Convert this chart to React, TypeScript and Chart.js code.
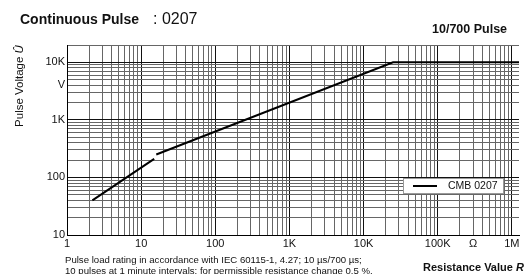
import React, { useEffect, useRef } from "react";
import { Chart, registerables } from "chart.js";

Chart.register(...registerables);

const seriesLabel = "CMB 0207";
const resistance = [2.2, 15, 15.5, 16, 25000, 1250000];
const voltage: (number | null)[] = [40, 210, null, 250, 10000, 10000];

const xTickLabels: Record<number, string> = {
  1: "1", 10: "10", 100: "100", 1000: "1K", 10000: "10K", 100000: "100K", 300000: "Ω", 1000000: "1M",
};
const yTickLabels: Record<number, string> = {
  10: "10", 100: "100", 1000: "1K", 4000: "V", 10000: "10K",
};

const titleMain = "Continuous Pulse";
const titleCode = ": 0207";
const titleRight = "10/700 Pulse";
const yTitle = "Pulse Voltage ";
const yTitleSym = "Û";
const xTitle = "Resistance Value ";
const xTitleSym = "R";
const note1 = "Pulse load rating in accordance with IEC 60115-1, 4.27; 10 µs/700 µs;";
const note2 = "10 pulses at 1 minute intervals; for permissible resistance change 0.5 %.";

function logGrid(min: number, max: number): number[] {
  const out: number[] = [];
  for (let d = Math.floor(Math.log10(min)); d <= Math.ceil(Math.log10(max)); d++) {
    for (let m = 1; m <= 9; m++) {
      const v = Math.round(m * Math.pow(10, d));
      if (v >= min - 1e-9 && v <= max + 1e-9) out.push(v);
    }
  }
  return out;
}

const FONT = "'Liberation Sans', Arial, sans-serif";

const isMajor = (v: number) => Math.abs(Math.log10(v) - Math.round(Math.log10(v))) < 1e-9;

export default function App() {
  const ref = useRef<HTMLCanvasElement | null>(null);
  useEffect(() => {
    if (!ref.current) return;
    const X_MIN = 1, X_MAX = 1250000, Y_MIN = 10, Y_MAX = 20000;
    const textPlugin = {
      id: "texts",
      afterDraw(chart: any) {
        const c = chart.ctx as CanvasRenderingContext2D;
        c.save();
        c.fillStyle = "#111";
        c.textBaseline = "middle";
        c.textAlign = "left";
        c.font = `bold 14px ${FONT}`;
        c.fillText(titleMain, 20, 20);
        c.font = `16px ${FONT}`;
        c.fillText(titleCode, 153, 20);
        c.font = `bold 12.5px ${FONT}`;
        c.fillText(titleRight, 432, 30);
        // x title
        c.font = `bold 11px ${FONT}`;
        const w1 = c.measureText(xTitle).width;
        c.fillText(xTitle, 423, 268);
        c.font = `bold italic 11px ${FONT}`;
        c.fillText(xTitleSym, 423 + w1, 268);
        // notes
        c.font = `9.6px ${FONT}`;
        c.fillText(note1, 65, 260);
        c.fillText(note2, 65, 271);
        // y title
        c.save();
        c.translate(20, 86);
        c.rotate(-Math.PI / 2);
        c.font = `11.5px ${FONT}`;
        const a = c.measureText(yTitle).width;
        c.font = `italic 11.5px ${FONT}`;
        const b = c.measureText(yTitleSym).width;
        const start = -(a + b) / 2;
        c.font = `11.5px ${FONT}`;
        c.fillText(yTitle, start, 0);
        c.font = `italic 11.5px ${FONT}`;
        c.fillText(yTitleSym, start + a, 0);
        c.restore();
        // legend
        c.fillStyle = "#fff";
        c.fillRect(403, 178, 100, 15);
        c.strokeStyle = "#999";
        c.lineWidth = 1;
        c.strokeRect(403.5, 178.5, 100, 15);
        c.strokeStyle = "#000";
        c.lineWidth = 2;
        c.beginPath();
        c.moveTo(413, 186);
        c.lineTo(437, 186);
        c.stroke();
        c.fillStyle = "#111";
        c.font = `10.5px ${FONT}`;
        c.fillText(seriesLabel, 448, 186);
        c.restore();
      },
    };
    const chart = new Chart(ref.current, {
      type: "line",
      data: {
        datasets: [
          {
            label: seriesLabel,
            data: resistance.map((x, i) => ({ x, y: voltage[i] as any })),
            borderColor: "#000",
            borderWidth: 2,
            pointRadius: 0,
            spanGaps: false,
            fill: false,
          },
        ],
      },
      options: {
        animation: false,
        responsive: false,
        events: [],
        layout: { padding: { left: 0, top: 45, right: 10, bottom: 0 } },
        plugins: { legend: { display: false }, tooltip: { enabled: false } },
        scales: {
          x: {
            type: "logarithmic",
            min: X_MIN,
            max: X_MAX,
            afterBuildTicks: (s: any) => {
              s.ticks = logGrid(X_MIN, X_MAX).map((v) => ({ value: v }));
            },
            afterFit: (s: any) => {
              s.height = 39;
            },
            ticks: {
              autoSkip: false,
              maxRotation: 0,
              minRotation: 0,
              padding: 2,
              color: "#111",
              font: { family: FONT, size: 11 },
              callback: (v: any) => xTickLabels[Math.round(Number(v))] ?? "",
            },
            grid: {
              drawTicks: false,
              color: (ctx: any) => (ctx.tick && isMajor(ctx.tick.value) ? "#111" : "#666"),
              lineWidth: 1,
            },
            border: { color: "#000", width: 1 },
          },
          y: {
            type: "logarithmic",
            min: Y_MIN,
            max: Y_MAX,
            afterBuildTicks: (s: any) => {
              s.ticks = logGrid(Y_MIN, Y_MAX).map((v) => ({ value: v }));
            },
            afterFit: (s: any) => {
              s.width = 67;
            },
            ticks: {
              autoSkip: false,
              padding: 2,
              color: "#111",
              font: { family: FONT, size: 11 },
              callback: (v: any) => yTickLabels[Math.round(Number(v))] ?? "",
            },
            grid: {
              drawTicks: false,
              color: (ctx: any) => (ctx.tick && isMajor(ctx.tick.value) ? "#111" : "#666"),
              lineWidth: 1,
            },
            border: { color: "#000", width: 1 },
          },
        },
      },
      plugins: [textPlugin],
    } as any);
    return () => chart.destroy();
  }, []);
  return (
    <div style={{ position: "absolute", left: 0, top: 0, width: 529, height: 274, background: "#fff" }}>
      <canvas ref={ref} width={529} height={274} style={{ width: 529, height: 274, display: "block" }} />
    </div>
  );
}
